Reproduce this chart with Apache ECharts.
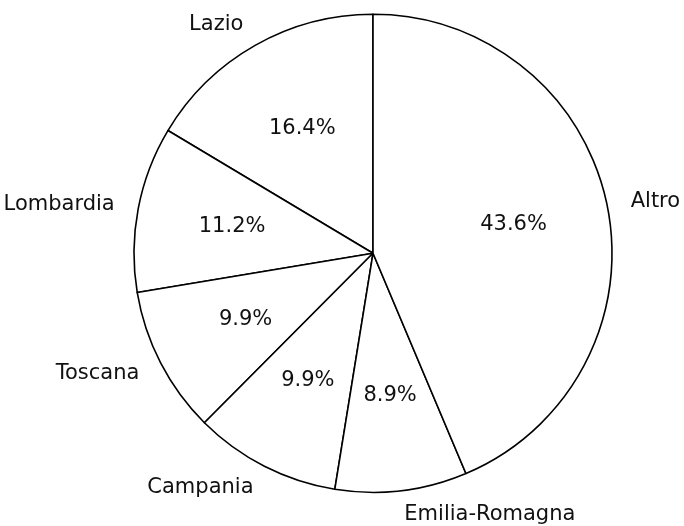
<!DOCTYPE html>
<html>
<head>
<meta charset="utf-8">
<script src="https://cdn.jsdelivr.net/npm/echarts@6/dist/echarts.min.js"></script>
<style>html,body{margin:0;padding:0;background:#fff;}#chart{width:684px;height:526px;}</style>
</head>
<body>
<div id="chart"></div>
<script>
const categories = ['Lazio', 'Lombardia', 'Toscana', 'Campania', 'Emilia-Romagna', 'Altro'];
const values = [16.4, 11.2, 9.9, 9.9, 8.9, 43.6];

const R = 239;
const C = [373, 253.3];
const FONT = 'DejaVu Sans';
const FS = 21;

const data = categories.map((c, i) => ({ name: c, value: values[i] }));

const chart = echarts.init(document.getElementById('chart'), null, { renderer: 'canvas' });
chart.setOption({
  backgroundColor: '#ffffff',
  animation: false,
  series: [
    {
      type: 'pie',
      center: C,
      radius: [0, R],
      startAngle: 90,
      clockwise: false,
      avoidLabelOverlap: false,
      silent: true,
      itemStyle: { color: '#ffffff', borderColor: '#000000', borderWidth: 1.6 },
      label: {
        show: true,
        position: 'outside',
        formatter: '{b}',
        color: '#111111',
        fontFamily: FONT,
        fontSize: FS,
        distanceToLabelLine: 0
      },
      labelLine: { show: false, length: R * 0.1, length2: 0 },
      emphasis: { disabled: true },
      data: data
    },
    {
      type: 'pie',
      center: C,
      radius: [0, 1.2 * R - 6],
      startAngle: 90,
      clockwise: false,
      avoidLabelOverlap: false,
      silent: true,
      z: 3,
      itemStyle: { color: 'rgba(0,0,0,0)', borderWidth: 0 },
      label: {
        show: true,
        position: 'inside',
        formatter: function (p) { return p.value.toFixed(1) + '%'; },
        color: '#111111',
        fontFamily: FONT,
        fontSize: FS
      },
      labelLine: { show: false },
      emphasis: { disabled: true },
      data: data
    }
  ]
});
</script>
</body>
</html>
